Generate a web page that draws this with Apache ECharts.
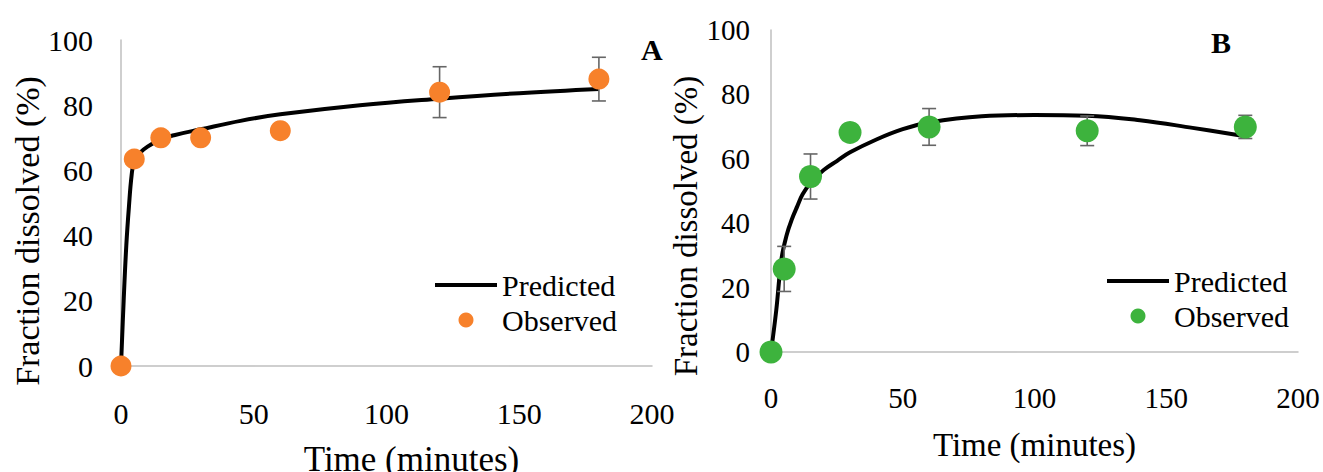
<!DOCTYPE html>
<html>
<head>
<meta charset="utf-8">
<script src="https://cdn.jsdelivr.net/npm/echarts@6/dist/echarts.min.js"></script>
<style>
html,body{margin:0;padding:0;background:#fff;}
#chart{width:1323px;height:472px;}
</style>
</head>
<body>
<div id="chart"></div>
<script>
// ---------- Data ----------
const xTicks = [0, 50, 100, 150, 200];
const yTicks = [0, 20, 40, 60, 80, 100];

// Panel A
const timeA = [0, 5, 15, 30, 60, 120, 180];
const obsA  = [0, 63.5, 70, 70, 72.2, 84, 88];
const errA  = [0, 0, 0, 0, 0, 7.8, 6.7];
const predTimeA = [0, 1, 2, 3, 4, 5, 7, 10, 15, 20, 30, 45, 60, 90, 120, 150, 180];
const predA     = [0, 20, 37, 49, 58.5, 63, 65.3, 67.3, 69.5, 70.8, 72.6, 75.2, 77.2, 80, 82, 83.7, 85];

// Panel B
const timeB = [0, 5, 15, 30, 60, 120, 180];
const obsB  = [0, 25.8, 54.5, 68.2, 69.9, 68.7, 69.9];
const errB  = [0, 7, 7, 0, 5.7, 4.6, 3.6];
const predTimeB = [0, 2, 4, 6, 8, 10, 12, 15, 20, 25, 30, 40, 50, 60, 80, 100, 120, 140, 160, 180];
const predB     = [0, 13, 29, 36.5, 41.4, 45.3, 49, 52.5, 56.5, 59.3, 62, 66, 69.2, 71.3, 73.2, 73.6, 73.4, 72, 69.6, 67];

const seriesNames = ['Predicted', 'Observed'];
const panelLabels = ['A', 'B'];
const xName = 'Time (minutes)';
const yName = 'Fraction dissolved (%)';

// ---------- Styles ----------
const FONT = 'Liberation Serif';
const ORANGE = '#F7812B';
const GREEN = '#3DB33D';
const AXIS = '#BFBFBF';
const ERR = '#666666';
const TXT = '#000000';

const zip = (xs, ys) => xs.map((x, i) => [x, ys[i]]);
const errData = (xs, ys, es) => xs.map((x, i) => [x, ys[i] - es[i], ys[i] + es[i], es[i]]).filter(d => d[3] > 0);

function errorBarSeries(name, idx, data) {
  return {
    name: name, type: 'custom', xAxisIndex: idx, yAxisIndex: idx, z: 3,
    data: data, silent: true,
    renderItem: function (params, api) {
      const x = api.value(0);
      const lo = api.coord([x, api.value(1)]);
      const hi = api.coord([x, api.value(2)]);
      const w = 7;
      const st = { stroke: ERR, lineWidth: 1.6 };
      return {
        type: 'group',
        children: [
          { type: 'line', shape: { x1: lo[0], y1: lo[1], x2: hi[0], y2: hi[1] }, style: st },
          { type: 'line', shape: { x1: lo[0] - w, y1: lo[1], x2: lo[0] + w, y2: lo[1] }, style: st },
          { type: 'line', shape: { x1: hi[0] - w, y1: hi[1], x2: hi[0] + w, y2: hi[1] }, style: st }
        ]
      };
    }
  };
}

function xAxisCfg(idx, fs, nameFs, gap, pad, margin) {
  return {
    gridIndex: idx, type: 'value', min: xTicks[0], max: xTicks[xTicks.length - 1],
    interval: xTicks[1] - xTicks[0],
    name: xName, nameLocation: 'middle', nameGap: gap,
    nameTextStyle: { fontFamily: FONT, fontSize: nameFs, color: TXT, padding: pad },
    axisLine: { show: true, onZero: true, lineStyle: { color: AXIS, width: 1.5 } },
    axisTick: { show: false }, splitLine: { show: false },
    axisLabel: { fontFamily: FONT, fontSize: fs, color: TXT, margin: margin }
  };
}
function yAxisCfg(idx, fs, nameFs, gap, pad, margin) {
  return {
    gridIndex: idx, type: 'value', min: yTicks[0], max: yTicks[yTicks.length - 1],
    interval: yTicks[1] - yTicks[0],
    name: yName, nameLocation: 'middle', nameGap: gap,
    nameTextStyle: { fontFamily: FONT, fontSize: nameFs, color: TXT, padding: pad },
    axisLine: { show: true, lineStyle: { color: AXIS, width: 1.5 } },
    axisTick: { show: false }, splitLine: { show: false },
    axisLabel: { fontFamily: FONT, fontSize: fs, color: TXT, margin: margin }
  };
}
function legendCfg(left, top, suffix) {
  return {
    orient: 'vertical', left: left, top: top, padding: 0,
    data: [
      { name: seriesNames[0] + suffix, icon: 'path://M0,0H62V4H0Z' },
      { name: seriesNames[1] + suffix, icon: 'circle' }
    ],
    formatter: n => n.replace(suffix, ''),
    itemWidth: 62, itemHeight: 15, itemGap: 5, symbolKeepAspect: true,
    textStyle: { fontFamily: FONT, fontSize: 30, color: TXT },
    selectedMode: false
  };
}

const chart = echarts.init(document.getElementById('chart'), null, { renderer: 'svg' });
chart.setOption({
  textStyle: { fontFamily: FONT },
  title: [
    { text: panelLabels[0], left: 636, top: 29, textStyle: { fontFamily: FONT, fontSize: 30, fontWeight: 'bold', color: TXT } },
    { text: panelLabels[1], left: 1206, top: 22, textStyle: { fontFamily: FONT, fontSize: 30, fontWeight: 'bold', color: TXT } }
  ],
  grid: [
    { left: 121, top: 40, width: 531, height: 326, outerBoundsMode: 'none', containLabel: false },
    { left: 771, top: 30, width: 527, height: 322, outerBoundsMode: 'none', containLabel: false }
  ],
  xAxis: [
    xAxisCfg(0, 30, 35, 76, [0, 0, 0, 50], 32),
    xAxisCfg(1, 29, 33, 76, [0, 0, 0, 0], 31)
  ],
  yAxis: [
    yAxisCfg(0, 30, 34, 74, [0, 56, 0, 0], 28),
    yAxisCfg(1, 29, 33, 56, [0, 70, 0, 0], 21)
  ],
  legend: [legendCfg(435, 270, ' A'), legendCfg(1107, 266, ' B')],
  series: [
    { name: 'Predicted A', type: 'line', xAxisIndex: 0, yAxisIndex: 0, data: zip(predTimeA, predA),
      symbol: 'none', smooth: 0.4, z: 2,
      lineStyle: { color: '#000', width: 4 }, itemStyle: { color: '#000' } },
    errorBarSeries('errA', 0, errData(timeA, obsA, errA)),
    { name: 'Observed A', type: 'scatter', xAxisIndex: 0, yAxisIndex: 0, data: zip(timeA, obsA),
      symbol: 'circle', symbolSize: 21, z: 4, itemStyle: { color: ORANGE, opacity: 1 } },
    { name: 'Predicted B', type: 'line', xAxisIndex: 1, yAxisIndex: 1, data: zip(predTimeB, predB),
      symbol: 'none', smooth: 0.4, z: 2,
      lineStyle: { color: '#000', width: 4 }, itemStyle: { color: '#000' } },
    errorBarSeries('errB', 1, errData(timeB, obsB, errB)),
    { name: 'Observed B', type: 'scatter', xAxisIndex: 1, yAxisIndex: 1, data: zip(timeB, obsB),
      symbol: 'circle', symbolSize: 23, z: 4, itemStyle: { color: GREEN, opacity: 1 } }
  ]
});
</script>
</body>
</html>
